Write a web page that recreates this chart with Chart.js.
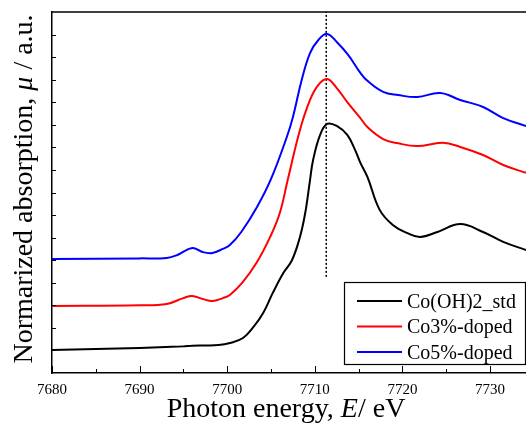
<!DOCTYPE html>
<html>
<head>
<meta charset="utf-8">
<script src="https://cdn.jsdelivr.net/npm/chart.js@4.4.0/dist/chart.umd.min.js"></script>
<style>
  html, body { margin: 0; padding: 0; background: #fff; }
  #wrap { width: 526px; height: 423px; }
</style>
</head>
<body>
<div id="wrap"><canvas id="chart" width="526" height="423"></canvas></div>
<script>
const seriesNames = ['Co(OH)2_std', 'Co3%-doped', 'Co5%-doped'];
const seriesColors = ['#000000', '#ff0000', '#0000ff'];

// Co(OH)2 standard
const stdEnergy = [7680, 7685, 7690, 7693, 7695, 7696, 7697.5, 7699, 7700.3, 7701.8, 7703, 7704.1, 7705.2, 7706.4,
    7707.4, 7708.3, 7708.9, 7709.45, 7709.8, 7710.6, 7711.4, 7712.5, 7713.7, 7714.6, 7715.2, 7716, 7717.4,
    7718.9, 7720.5, 7722, 7724, 7726.6, 7729.2, 7731.5, 7734.1];
const stdMu = [1.02, 1.06, 1.11, 1.15, 1.18, 1.21, 1.22, 1.24, 1.33, 1.55, 2.04, 2.66, 3.55, 4.43,
    5.01, 6.03, 7.09, 8.55, 9.44, 10.55, 11.04, 10.95, 10.55, 9.88, 9.31, 8.69, 7.23,
    6.56, 6.21, 6.03, 6.25, 6.60, 6.25, 5.81, 5.45];

// Co 3% doped
const co3Energy = [7680, 7690, 7693.1, 7695, 7696, 7697.2, 7698.3, 7699.5, 7700.3, 7701.7, 7703.4, 7704.9, 7706,
    7706.9, 7708.3, 7709.45, 7710.4, 7711.4, 7712.5, 7713.7, 7715.2, 7716, 7717.8, 7719.5, 7721.7, 7724.6,
    7726.6, 7729.2, 7731.5, 7734.1];
const co3Mu = [2.97, 3.0, 3.06, 3.32, 3.41, 3.28, 3.19, 3.32, 3.46, 3.99, 4.92, 6.03, 7.09,
    8.55, 10.77, 12.10, 12.77, 13.03, 12.63, 12.01, 11.30, 10.90, 10.37, 10.18, 10.06, 10.20,
    10.02, 9.66, 9.22, 8.87];

// Co 5% doped
const co5Energy = [7680, 7690, 7693.1, 7694.3, 7696, 7697.2, 7698.3, 7699.5, 7700.3, 7701.6, 7703.4, 7705,
    7706.8, 7707.5, 7708.5, 7709.45, 7710.4, 7711.4, 7712.5, 7713.8, 7715.2, 7716, 7717.8, 7719.5, 7721.7,
    7724.3, 7726.6, 7729.2, 7731.5, 7734.1];
const co5Mu = [5.05, 5.08, 5.10, 5.23, 5.54, 5.36, 5.32, 5.50, 5.67, 6.25, 7.36, 8.6,
    10.46, 11.35, 12.99, 14.18, 14.76, 15.03, 14.67, 14.10, 13.3, 12.95, 12.46, 12.32, 12.23,
    12.41, 12.10, 11.79, 11.30, 10.95];

// dotted marker at the white line position
const edgeEnergy = [7711.3, 7711.3];
const edgeMu = [4.26, 16];

const xTickValues = [7680, 7690, 7700, 7710, 7720, 7730];
const xMinorValues = [7685, 7695, 7705, 7715, 7725];
const yTickValues = [1, 2, 3, 4, 5, 6, 7, 8, 9, 10, 11, 12, 13, 14, 15];

const serif = "'Liberation Serif', 'Times New Roman', serif";
Chart.defaults.font.family = serif;

function toPoints(xs, ys) {
    return xs.map((x, i) => ({ x: x, y: ys[i] }));
}

const curves = [[stdEnergy, stdMu], [co3Energy, co3Mu], [co5Energy, co5Mu]];
const datasets = curves.map((c, i) => ({
    label: seriesNames[i],
    data: toPoints(c[0], c[1]),
    borderColor: seriesColors[i],
    borderWidth: 2,
    pointRadius: 0,
    fill: false,
    tension: 0.4
}));
datasets.push({
    label: '',
    data: toPoints(edgeEnergy, edgeMu),
    borderColor: '#000',
    borderWidth: 1.5,
    borderDash: [2, 2],
    pointRadius: 0,
    tension: 0
});

// draw a run of text pieces, some italic
function drawPieces(ctx, pieces, size, cx, cy) {
    const fonts = pieces.map(p => (p[1] ? 'italic ' : '') + size + 'px ' + serif);
    let total = 0;
    const widths = pieces.map((p, i) => { ctx.font = fonts[i]; const w = ctx.measureText(p[0]).width; total += w; return w; });
    let x = cx - total / 2;
    pieces.forEach((p, i) => {
        ctx.font = fonts[i];
        ctx.fillText(p[0], x, cy);
        x += widths[i];
    });
}

const framePlugin = {
    id: 'frame',
    afterDraw(chart) {
        const ctx = chart.ctx;
        const { left, top, right, bottom } = chart.chartArea;
        const xs = chart.scales.x, ys = chart.scales.y;
        ctx.save();
        ctx.strokeStyle = '#000';
        ctx.fillStyle = '#000';

        // top frame line
        ctx.lineWidth = 1.5;
        ctx.beginPath();
        ctx.moveTo(left, top);
        ctx.lineTo(right, top);
        ctx.stroke();

        // inward ticks
        ctx.lineWidth = 1;
        ctx.beginPath();
        xTickValues.forEach(v => {
            const px = Math.round(xs.getPixelForValue(v)) + 0.5;
            ctx.moveTo(px, bottom); ctx.lineTo(px, bottom - 7);
        });
        xMinorValues.forEach(v => {
            const px = Math.round(xs.getPixelForValue(v)) + 0.5;
            ctx.moveTo(px, bottom); ctx.lineTo(px, bottom - 4);
        });
        yTickValues.forEach(v => {
            const py = Math.round(ys.getPixelForValue(v)) + 0.5;
            ctx.moveTo(left, py); ctx.lineTo(left + 4, py);
        });
        ctx.stroke();

        // axis titles
        ctx.textBaseline = 'alphabetic';
        ctx.textAlign = 'left';
        drawPieces(ctx, [['Photon energy, ', false], ['E', true], ['/ eV', false]], 28, 286, 417);
        ctx.save();
        ctx.translate(32, 189);
        ctx.rotate(-Math.PI / 2);
        drawPieces(ctx, [['Normarized absorption, ', false], ['\u03bc', true], [' / a.u.', false]], 28, 0, 0);
        ctx.restore();

        // legend box
        const bx = 344.5, by = 282.5, bw = 181, bh = 82;
        ctx.fillStyle = '#fff';
        ctx.fillRect(bx, by, bw, bh);
        ctx.lineWidth = 1.2;
        ctx.strokeRect(bx, by, bw, bh);
        ctx.font = '20px ' + serif;
        seriesNames.forEach((name, i) => {
            const ly = 301 + i * 25.5;
            ctx.strokeStyle = seriesColors[i];
            ctx.lineWidth = 2;
            ctx.beginPath();
            ctx.moveTo(357, ly);
            ctx.lineTo(402, ly);
            ctx.stroke();
            ctx.fillStyle = '#000';
            ctx.fillText(name, 407, ly + 6.5);
        });
        ctx.restore();
    }
};

new Chart(document.getElementById('chart').getContext('2d'), {
    type: 'line',
    data: { datasets: datasets },
    options: {
        responsive: false,
        animation: false,
        devicePixelRatio: 1,
        layout: { padding: { top: 12, right: 0, left: 0, bottom: 0 } },
        plugins: {
            legend: { display: false },
            tooltip: { enabled: false }
        },
        scales: {
            x: {
                type: 'linear',
                min: 7680,
                max: 7734.1,
                afterBuildTicks: scale => { scale.ticks = xTickValues.map(v => ({ value: v })); },
                afterFit: scale => { scale.height = 50; },
                ticks: {
                    color: '#000',
                    font: { size: 15, family: serif },
                    padding: 8,
                    maxRotation: 0,
                    autoSkip: false,
                    callback: v => String(v)
                },
                grid: { display: false, drawTicks: false },
                border: { display: true, color: '#000', width: 1.5 }
            },
            y: {
                min: 0,
                max: 16,
                afterFit: scale => { scale.width = 52; },
                ticks: { display: false },
                grid: { display: false, drawTicks: false },
                border: { display: true, color: '#000', width: 1.5 }
            }
        }
    },
    plugins: [framePlugin]
});
</script>
</body>
</html>
